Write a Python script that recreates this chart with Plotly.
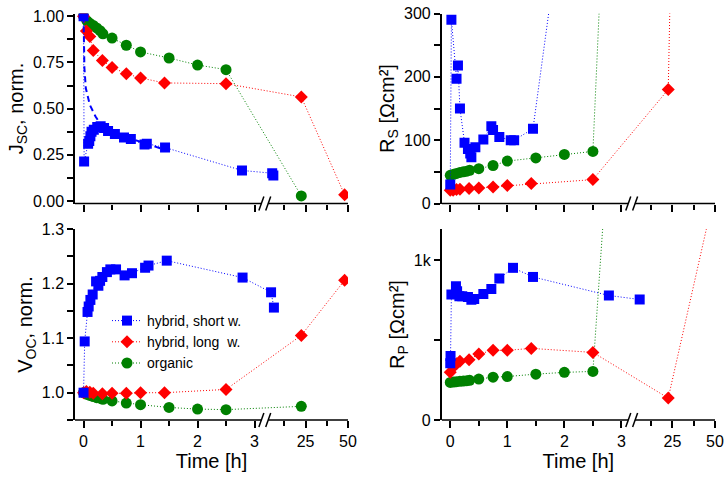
import plotly.graph_objects as go

# ---------------- data ----------------
# organic (green circles) and hybrid long w. (red diamonds): common time bases [h]
t_green = [0, 0.06, 0.11, 0.17, 0.23, 0.29, 0.34, 0.5, 0.75, 1.0, 1.5, 2.0, 2.5, 22.5]
jsc_green = [1.0, 0.975, 0.962, 0.95, 0.937, 0.922, 0.905, 0.882, 0.843, 0.807, 0.774, 0.736, 0.711, 0.027]
voc_green = [1.0, 0.997, 0.995, 0.993, 0.991, 0.99, 0.988, 0.985, 0.981, 0.978, 0.973, 0.97, 0.969, 0.975]
rs_green = [44.5, 46, 47.5, 49, 50, 51, 52.5, 55, 60, 67, 72, 77.5, 82.3, 2750]
rp_green = [235, 237, 240, 242, 244, 246, 248, 256, 268, 272, 287, 298, 304, 7200]

t_red = [0, 0.05, 0.11, 0.17, 0.33, 0.5, 0.75, 1.0, 1.42, 2.5, 22.5, 48]
jsc_red = [1.0, 0.92, 0.89, 0.815, 0.76, 0.723, 0.689, 0.666, 0.639, 0.635, 0.563, 0.033]
voc_red = [1.0, 1.002, 1.001, 0.999, 0.998, 0.999, 0.999, 1.0, 1.0, 1.006, 1.105, 1.206]
rs_red = [21, 21, 22, 22.5, 23.6, 24.6, 26, 28.5, 31.4, 37.7, 180, 3600]
rp_red = [298, 331, 352, 367, 377, 413, 436, 436, 448, 423, 137, 1340]

# hybrid short w. (blue squares)
t_blue_jsc = [0, 0.01, 0.08, 0.10, 0.12, 0.14, 0.18, 0.24, 0.30, 0.36, 0.43, 0.55, 0.71, 0.83, 1.07, 1.11, 1.43, 2.78, 3.31, 3.33]
jsc_blue = [1.0, 0.213, 0.31, 0.325, 0.35, 0.375, 0.385, 0.40, 0.405, 0.395, 0.378, 0.362, 0.343, 0.335, 0.305, 0.31, 0.289, 0.165, 0.15, 0.138]

t_blue_fit = [0, 0.005, 0.015, 0.04, 0.11, 0.21, 0.3, 0.45, 0.6, 0.8, 1.0, 1.2, 1.35]
jsc_blue_fit = [1.0, 0.85, 0.72, 0.61, 0.52, 0.457, 0.415, 0.38, 0.36, 0.34, 0.32, 0.3, 0.285]

t_blue_voc = [0, 0.02, 0.07, 0.09, 0.12, 0.16, 0.22, 0.26, 0.29, 0.33, 0.41, 0.47, 0.57, 0.72, 0.85, 1.08, 1.14, 1.46, 2.79, 3.29, 3.34]
voc_blue = [1.0, 1.094, 1.148, 1.158, 1.17, 1.18, 1.204, 1.196, 1.205, 1.212, 1.221, 1.226, 1.226, 1.215, 1.219, 1.229, 1.233, 1.242, 1.211, 1.184, 1.156]

t_blue_rs = [0, 0.02, 0.11, 0.135, 0.17, 0.25, 0.31, 0.35, 0.37, 0.44, 0.58, 0.72, 0.75, 0.86, 1.06, 1.12, 1.45, 2.78, 3.32]
rs_blue = [30, 290, 197, 218, 150, 96, 86, 79, 73, 89, 101, 122, 116, 105, 100, 100, 118, 1000, 1100]

t_blue_rp = [0, 0.005, 0.02, 0.1, 0.12, 0.16, 0.21, 0.31, 0.37, 0.42, 0.58, 0.72, 0.86, 1.1, 1.45, 2.78, 3.32]
rp_blue = [355, 400, 785, 837, 805, 774, 774, 769, 753, 757, 789, 820, 885, 952, 895, 779, 754]

series_names = ["hybrid, short w.", "hybrid, long\u00a0 w.", "organic"]
x_tick_labels = ["0", "1", "2", "3", "25", "50"]

# ---------------- broken time axis ----------------
BREAK_T = 3.5          # hours beyond which the compressed segment is used
SEG2_OFFSET = 3.15     # axis units where 0 h of the second segment would sit
SEG2_SCALE = 0.0298    # axis units per hour in the second segment


def u(t):
    return t if t <= BREAK_T else SEG2_OFFSET + SEG2_SCALE * t


def U(ts):
    return [u(t) for t in ts]


BLUE = "#0000FF"
RED = "#FF0000"
GREEN = "#008000"
FONT = "Arial, Liberation Sans, sans-serif"

fig = go.Figure()

panels = [
    # (xaxis, yaxis, green, red, blue_t, blue)
    ("x", "y", jsc_green, jsc_red, t_blue_jsc, jsc_blue),
    ("x2", "y2", rs_green, rs_red, t_blue_rs, rs_blue),
    ("x3", "y3", voc_green, voc_red, t_blue_voc, voc_blue),
    ("x4", "y4", rp_green, rp_red, t_blue_rp, rp_blue),
]

for xa, ya, g, r, tb, b in panels:
    show = (xa == "x3")
    fig.add_trace(go.Scatter(
        x=U(t_green), y=g, xaxis=xa, yaxis=ya, mode="lines+markers",
        name=series_names[2], showlegend=show, legendrank=3,
        line=dict(color=GREEN, width=1, dash="1px,2px"),
        marker=dict(symbol="circle", size=11, color=GREEN, line=dict(width=0)),
        cliponaxis=True))
    fig.add_trace(go.Scatter(
        x=U(t_red), y=r, xaxis=xa, yaxis=ya, mode="lines+markers",
        name=series_names[1], showlegend=show, legendrank=2,
        line=dict(color=RED, width=1, dash="1px,2px"),
        marker=dict(symbol="diamond", size=10, color=RED, line=dict(width=0)),
        cliponaxis=True))
    if xa == "x":
        fig.add_trace(go.Scatter(
            x=U(t_blue_fit), y=jsc_blue_fit, xaxis=xa, yaxis=ya, mode="lines",
            showlegend=False, line=dict(color=BLUE, width=2, dash="6px,4px")))
    fig.add_trace(go.Scatter(
        x=U(tb), y=b, xaxis=xa, yaxis=ya, mode="lines+markers",
        name=series_names[0], showlegend=show, legendrank=1,
        line=dict(color=BLUE, width=1, dash="1px,2px"),
        marker=dict(symbol="square", size=10, color=BLUE, line=dict(width=0)),
        cliponaxis=True))

W, H = 728, 480
left_dom = [75 / W, 348 / W]
right_dom = [441.7 / W, 715 / W]
top_dom = [1 - 203.5 / H, 1 - 13.5 / H]
bot_dom = [1 - 420 / H, 1 - 229 / H]

tickfont = dict(family=FONT, size=16, color="black")
titlefont = dict(family=FONT, size=20, color="black")

x_tickvals = [0, 1, 2, 3, u(25), u(50)]
x_minor_vals = [0.5, 1.5, 2.5, u(12.5), u(37.5)]
x_range = [-0.15, u(50)]


def xaxis(dom, anchor, labels):
    d = dict(domain=dom, anchor=anchor, range=x_range, showline=False,
             showgrid=False, zeroline=False, ticks="outside", ticklen=7,
             tickwidth=1.5, tickcolor="black", tickmode="array",
             tickvals=x_tickvals, ticktext=x_tick_labels,
             showticklabels=labels, tickfont=tickfont,
             minor=dict(tickmode="array", tickvals=x_minor_vals, ticks="outside",
                        ticklen=5, tickwidth=1.5, tickcolor="black", showgrid=False))
    if labels:
        d["title"] = dict(text="Time [h]", font=titlefont, standoff=2)
    return d


def yaxis(dom, anchor, rng, title, **kw):
    d = dict(domain=dom, anchor=anchor, range=rng, showline=True, linewidth=1.5,
             linecolor="black", showgrid=False, zeroline=False, ticks="outside",
             ticklen=6, tickwidth=1.5, tickcolor="black", tickfont=tickfont,
             title=dict(text=title, font=titlefont, standoff=4))
    d.update(kw)
    return d


fig.update_layout(
    width=W, height=H, template="none",
    paper_bgcolor="white", plot_bgcolor="white",
    margin=dict(l=0, r=0, t=0, b=0),
    font=dict(family=FONT, size=16, color="black"),
    xaxis=xaxis(left_dom, "y", False),
    xaxis2=xaxis(right_dom, "y2", False),
    xaxis3=xaxis(left_dom, "y3", True),
    xaxis4=xaxis(right_dom, "y4", True),
    yaxis=yaxis(top_dom, "x", [-0.014, 1.015], "J<sub>SC</sub>, norm.",
                tickmode="array", tickvals=[0, 0.25, 0.5, 0.75, 1.0],
                ticktext=["0.00", "0.25", "0.50", "0.75", "1.00"],
                minor=dict(tickmode="array", tickvals=[0.125, 0.375, 0.625, 0.875],
                           ticks="outside", ticklen=6, tickwidth=1.5, tickcolor="black")),
    yaxis2=yaxis(top_dom, "x2", [0, 300], "R<sub>S</sub> [Ωcm²]",
                 tickmode="array", tickvals=[0, 100, 200, 300],
                 ticktext=["0", "100", "200", "300"],
                 minor=dict(tickmode="array", tickvals=[50, 150, 250],
                            ticks="outside", ticklen=6, tickwidth=1.5, tickcolor="black")),
    yaxis3=yaxis(bot_dom, "x3", [0.95, 1.3], "V<sub>OC</sub>, norm.",
                 tickmode="array", tickvals=[1.0, 1.1, 1.2, 1.3],
                 ticktext=["1.0", "1.1", "1.2", "1.3"],
                 minor=dict(tickmode="array", tickvals=[0.95, 1.05, 1.15, 1.25],
                            ticks="outside", ticklen=6, tickwidth=1.5, tickcolor="black")),
    yaxis4=yaxis(bot_dom, "x4", [0, 1195], "R<sub>P</sub> [Ωcm²]",
                 tickmode="array", tickvals=[0, 1000], ticktext=["0", "1k"],
                 minor=dict(tickmode="array", tickvals=[500],
                            ticks="outside", ticklen=6, tickwidth=1.5, tickcolor="black")),
    legend=dict(x=107 / W, y=1 - 305 / H, xanchor="left", yanchor="top",
                bgcolor="rgba(0,0,0,0)", font=dict(family=FONT, size=14, color="black"),
                tracegroupgap=0),
    showlegend=True,
)

# broken x-axis lines with "//" marks
GAP_L, GAP_R = 3.12, 3.24
shapes = []
for xr, yr in [("x", "y"), ("x2", "y2"), ("x3", "y3"), ("x4", "y4")]:
    ydom = yr + " domain"
    shapes.append(dict(type="line", xref=xr, yref=ydom, x0=x_range[0], x1=GAP_L,
                       y0=0, y1=0, line=dict(color="black", width=1.5)))
    shapes.append(dict(type="line", xref=xr, yref=ydom, x0=GAP_R, x1=x_range[1],
                       y0=0, y1=0, line=dict(color="black", width=1.5)))
    for xa in (GAP_L, GAP_R):
        shapes.append(dict(type="line", xref=xr, yref=ydom,
                           xsizemode="pixel", xanchor=xa, x0=-2.5, x1=2.5,
                           ysizemode="pixel", yanchor=0, y0=-7, y1=7,
                           line=dict(color="black", width=1.5)))
fig.update_layout(shapes=shapes)

fig.write_html("out.html", config={"displayModeBar": False},
               post_script="document.body.style.margin='0';")
